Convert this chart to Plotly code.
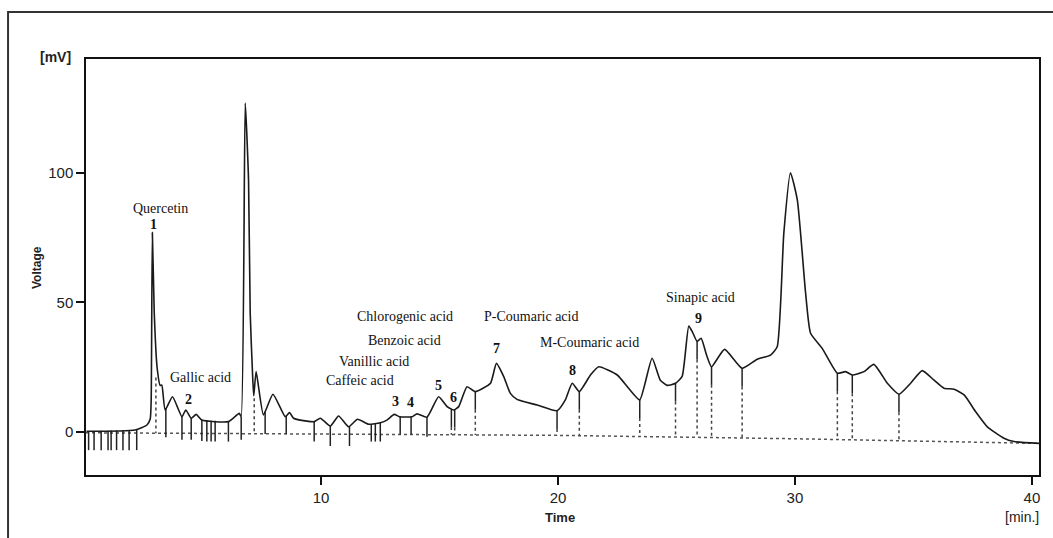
import numpy as np
import plotly.graph_objects as go

# ---------------- data ----------------
curve_t = [0.10, 2.15, 2.65, 2.79, 2.83, 2.88, 2.96, 3.08, 3.21, 3.28,
           3.42, 3.73, 4.13, 4.29, 4.52, 4.73, 4.97, 6.09, 6.55, 6.63,
           6.80, 6.94, 7.01, 7.12, 7.16, 7.26, 7.57, 7.97, 8.49, 8.67,
           8.84, 9.40, 9.71, 9.97, 10.39, 10.74, 11.16, 11.54, 12.01, 12.50,
           12.78, 13.09, 13.31, 13.84, 14.05, 14.47, 14.96, 15.32, 15.60, 15.81,
           16.16, 16.51, 17.15, 17.40, 17.71, 17.99, 18.27, 19.12, 19.96, 20.31,
           20.60, 20.90, 21.37, 21.72, 22.50, 22.97, 23.45, 23.97, 24.32, 24.61,
           24.96, 25.24, 25.52, 25.68, 25.87, 26.04, 26.27, 26.48, 27.03, 27.77,
           28.41, 28.97, 29.25, 29.53, 29.81, 30.10, 30.45, 30.66, 31.15, 31.79,
           32.14, 32.42, 32.91, 33.33, 33.90, 34.39, 34.88, 35.37, 35.86, 36.29,
           36.71, 37.14, 37.63, 38.12, 38.82, 39.24, 40.30]
curve_v = [0.3, 0.8, 2.7, 5.0, 12.0, 77.0, 46.0, 25.0, 18.0, 18.1,
           8.5, 13.6, 5.9, 8.5, 5.3, 6.8, 4.6, 4.0, 7.2, 5.9,
           127.0, 97.0, 46.0, 20.0, 14.0, 23.3, 6.6, 14.6, 5.9, 7.5,
           5.3, 4.2, 4.0, 5.3, 2.3, 6.2, 2.0, 4.9, 3.0, 3.6,
           4.6, 6.8, 5.9, 5.9, 7.0, 5.7, 13.6, 9.8, 8.5, 9.8,
           17.5, 15.6, 18.8, 26.5, 21.4, 14.9, 12.6, 10.4, 8.2, 12.4,
           18.8, 15.6, 22.0, 25.2, 22.0, 17.0, 12.4, 28.5, 20.0, 18.0,
           18.8, 21.5, 40.9, 38.5, 35.0, 36.2, 29.7, 25.2, 31.9, 24.6,
           28.1, 29.7, 32.9, 76.7, 100.1, 89.6, 53.6, 38.1, 32.3, 22.7,
           23.3, 22.0, 23.3, 26.1, 18.8, 14.6, 18.8, 23.7, 20.1, 16.9,
           16.5, 14.3, 7.8, 2.0, -2.4, -3.7, -4.4]

# drifting integration baseline (dotted)
base_t = [0.08, 10.0, 20.0, 30.0, 40.3]
base_v = [-0.3, -0.8, -1.3, -2.6, -4.4]

# integration marks
early_marks_t = [0.19, 0.42, 0.72, 1.01, 1.14, 1.37, 1.64, 1.90, 2.22]
early_marks_bottom = -7.0
mid_marks_t = [3.45, 4.13, 4.52, 4.97, 5.18, 5.36, 5.53, 6.09, 6.63, 7.64,
               8.53, 9.71, 10.39, 11.20, 12.12, 12.29, 12.50, 13.34, 13.80, 14.47]
mid_marks_bottom = [-2.0, -3.0, -3.0, -3.5, -3.7, -3.7, -3.7, -3.7, -3.0, -0.8,
                    -0.8, -3.7, -5.4, -5.4, -3.7, -3.7, -3.7, -1.0, -1.0, -1.8]
split_marks_t = [15.50, 15.64, 16.51, 19.96, 20.90, 23.45, 24.96, 25.87, 26.48,
                 27.77, 31.79, 32.42, 34.39]
split_solid_len = 7.0
dotted_marks_t = [3.03, 7.18]
dotted_marks_top = [21.0, 13.0]

# peak labels: (text, time, voltage)
compound_labels = [("Quercetin", 3.21, 86.2), ("Gallic acid", 4.90, 21.2),
                   ("Chlorogenic acid", 13.56, 44.4), ("Benzoic acid", 13.51, 35.5),
                   ("Vanillic acid", 12.25, 27.4), ("Caffeic acid", 11.66, 19.7),
                   ("P-Coumaric acid", 18.88, 44.4), ("M-Coumaric acid", 21.33, 34.4),
                   ("Sinapic acid", 26.01, 52.1)]
peak_numbers = [("1", 2.91, 80.2), ("2", 4.39, 12.4), ("3", 13.13, 11.6),
                ("4", 13.77, 11.2), ("5", 14.95, 17.8), ("6", 15.58, 13.5),
                ("7", 17.40, 32.4), ("8", 20.61, 23.6), ("9", 25.93, 44.0)]

x_ticks = [10, 20, 30, 40]
y_ticks = [0, 50, 100]

# ---------------- build figure ----------------
fig = go.Figure()

def baseline_at(t):
    return float(np.interp(t, base_t, base_v))

def curve_at(t):
    return float(np.interp(t, curve_t, curve_v))

# baseline dotted
fig.add_trace(go.Scatter(x=base_t, y=base_v, mode="lines",
                         line=dict(color="#555555", width=1.5, dash="dot"),
                         hoverinfo="skip", showlegend=False))

# marks
sx, sy = [], []
for t in early_marks_t:
    sx += [t, t, None]
    sy += [curve_at(t), early_marks_bottom, None]
for t, b in zip(mid_marks_t, mid_marks_bottom):
    sx += [t, t, None]
    sy += [curve_at(t), b, None]
dx, dy = [], []
for t in split_marks_t:
    top = curve_at(t)
    base = baseline_at(t)
    mid = max(top - split_solid_len, base)
    sx += [t, t, None]
    sy += [top, mid, None]
    dx += [t, t, None]
    dy += [mid, base, None]
for t, top in zip(dotted_marks_t, dotted_marks_top):
    dx += [t, t, None]
    dy += [top, baseline_at(t), None]

fig.add_trace(go.Scatter(x=dx, y=dy, mode="lines",
                         line=dict(color="#444444", width=1.5, dash="dot"),
                         hoverinfo="skip", showlegend=False))
fig.add_trace(go.Scatter(x=sx, y=sy, mode="lines",
                         line=dict(color="#222222", width=1.5),
                         hoverinfo="skip", showlegend=False))

# chromatogram
fig.add_trace(go.Scatter(x=curve_t, y=curve_v, mode="lines",
                         line=dict(color="#1a1a1a", width=1.6, shape="spline", smoothing=0.5),
                         showlegend=False))

label_font = dict(family="Liberation Serif", size=14, color="#111111")
annotations = []
for text, t, v in compound_labels:
    annotations.append(dict(x=t, y=v, xref="x", yref="y", text=text, showarrow=False,
                            xanchor="center", yanchor="middle", font=label_font))
for text, t, v in peak_numbers:
    annotations.append(dict(x=t, y=v, xref="x", yref="y", text="<b>%s</b>" % text,
                            showarrow=False, xanchor="center", yanchor="middle",
                            font=label_font))

axis_font = dict(family="Liberation Sans", size=14, color="#222222")
annotations += [
    dict(x=-0.0315, y=1.0048, xref="paper", yref="paper", text="<b>[mV]</b>",
         showarrow=False, xanchor="center", yanchor="middle", font=axis_font),
    dict(x=-0.0514, y=0.4976, xref="paper", yref="paper", text="<b>Voltage</b>",
         textangle=-90, showarrow=False, xanchor="center", yanchor="middle",
         font=dict(family="Liberation Sans", size=12, color="#222222")),
    dict(x=0.4974, y=-0.101, xref="paper", yref="paper", text="<b>Time</b>",
         showarrow=False, xanchor="center", yanchor="middle",
         font=dict(family="Liberation Sans", size=13, color="#222222")),
    dict(x=0.982, y=-0.101, xref="paper", yref="paper", text="[min.]",
         showarrow=False, xanchor="center", yanchor="middle", font=axis_font),
]

fig.update_layout(
    width=1053, height=538,
    margin=dict(l=86, r=14, t=59, b=63),
    paper_bgcolor="white", plot_bgcolor="white",
    annotations=annotations,
    shapes=[dict(type="rect", xref="paper", yref="paper",
                 x0=-0.0818, x1=1.05, y0=-0.3, y1=1.113,
                 line=dict(color="#333333", width=2))],
)
tick_font = dict(family="Liberation Sans", size=15, color="#222222")
fig.update_xaxes(range=[0.08, 40.3], tickvals=x_ticks, ticks="outside", ticklen=8,
                 tickwidth=1.5, tickcolor="#111111", showline=True, linecolor="#111111",
                 linewidth=1.5, mirror=True, showgrid=False, zeroline=False,
                 tickfont=tick_font)
fig.update_yaxes(range=[-16.6, 144.0], tickvals=y_ticks, ticks="outside", ticklen=8,
                 tickwidth=1.5, tickcolor="#111111", showline=True, linecolor="#111111",
                 linewidth=1.5, mirror=True, showgrid=False, zeroline=False,
                 tickfont=tick_font)

fig.write_html("out.html")
